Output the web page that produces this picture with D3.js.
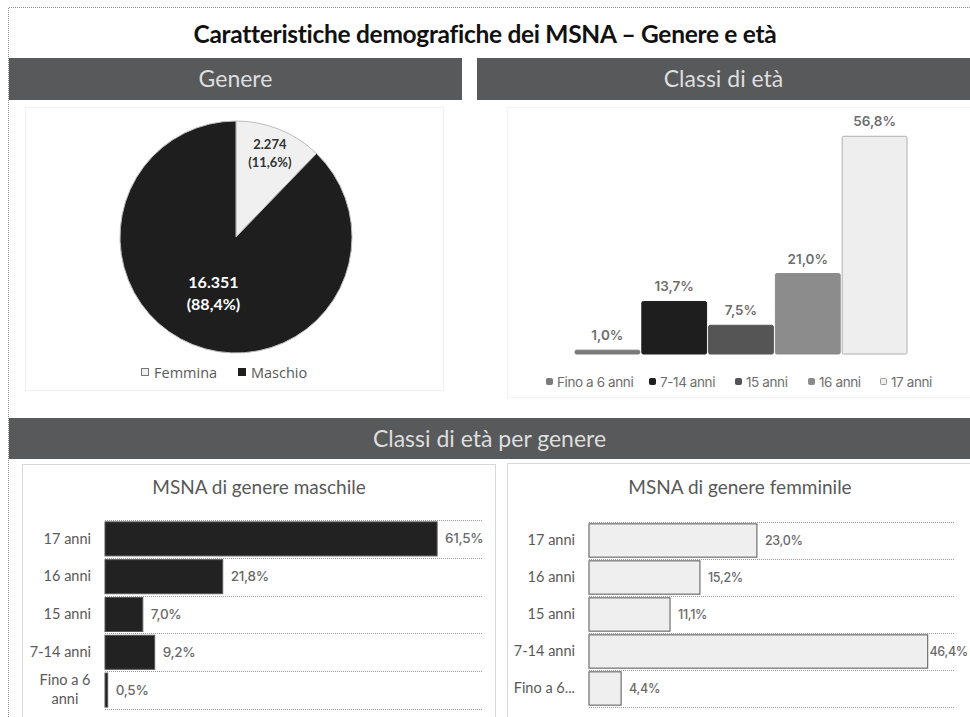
<!DOCTYPE html>
<html>
<head>
<meta charset="utf-8">
<script src="https://cdn.jsdelivr.net/npm/d3@7"></script>
<style>
  body { margin: 0; background: #fff; }
  svg { display: block; font-family: Lato, "Open Sans", sans-serif; }
</style>
</head>
<body>
<div id="chart"></div>
<script>
// data
var genderCats = ["Femmina", "Maschio"];
var genderCounts = [2274, 16351];
var genderLabels = ["(11,6%)", "(88,4%)"];

var ageCats = ["Fino a 6 anni", "7-14 anni", "15 anni", "16 anni", "17 anni"];
var agePct = [1.0, 13.7, 7.5, 21.0, 56.8];

var byGenderCats = ["17 anni", "16 anni", "15 anni", "7-14 anni", "Fino a 6 anni"];
var malePct = [61.5, 21.8, 7.0, 9.2, 0.5];
var femalePct = [23.0, 15.2, 11.1, 46.4, 4.4];

var W = 970, H = 717;
var fmt = function(v) { return v.toFixed(1).replace(".", ",") + "%"; };
var fmtInt = function(v) { return d3.format(",")(v).replace(/,/g, "."); };

var svg = d3.select("#chart").append("svg")
    .attr("width", W)
    .attr("height", H);

// outer dotted frame
svg.append("path")
    .attr("d", "M8.5," + H + "V7.5H" + W)
    .attr("fill", "none")
    .attr("stroke", "#8a8a8a")
    .attr("stroke-dasharray", "1,1");

svg.append("text")
    .attr("x", 485).attr("y", 43)
    .attr("text-anchor", "middle")
    .attr("font-size", 24.5)
    .attr("font-weight", "bold")
    .attr("letter-spacing", -0.3)
    .attr("fill", "#111")
    .text("Caratteristiche demografiche dei MSNA \u2013 Genere e età");

// section header bars
function header(x0, x1, y0, y1, label, size) {
  svg.append("rect")
      .attr("x", x0).attr("y", y0)
      .attr("width", x1 - x0).attr("height", y1 - y0)
      .attr("fill", "#58595b");
  svg.append("text")
      .attr("x", (x0 + x1) / 2).attr("y", (y0 + y1) / 2 + size * 0.36)
      .attr("text-anchor", "middle")
      .attr("font-size", size)
      .attr("fill", "#dedede")
      .text(label);
}
header(9, 462, 58, 100, "Genere", 23);
header(477, W, 58, 100, "Classi di età", 23);
header(9, W, 418, 459, "Classi di età per genere", 23);

// faint panel boxes
svg.append("rect").attr("x", 25.5).attr("y", 107.5).attr("width", 418).attr("height", 283)
    .attr("fill", "none").attr("stroke", "#f0f0f0");
svg.append("rect").attr("x", 507.5).attr("y", 107.5).attr("width", 470).attr("height", 290)
    .attr("fill", "none").attr("stroke", "#f3f3f3");
svg.append("rect").attr("x", 22.5).attr("y", 464.5).attr("width", 473).attr("height", 260)
    .attr("fill", "none").attr("stroke", "#d8d8d8");
svg.append("rect").attr("x", 507.5).attr("y", 463.5).attr("width", 470).attr("height", 260)
    .attr("fill", "none").attr("stroke", "#d8d8d8");

// ---- pie: genere
var cx = 236, cy = 237, R = 116;
var pie = d3.pie().sort(null).value(function(d) { return d; });
var arcs = pie(genderCounts);
var arc = d3.arc().innerRadius(0).outerRadius(R);
var pieFill = ["#f0f0f0", "#1e1e1e"];
var gPie = svg.append("g").attr("transform", "translate(" + cx + "," + cy + ")");

gPie.selectAll("path")
    .data(arcs)
    .enter().append("path")
    .attr("d", arc)
    .attr("fill", function(d, i) { return pieFill[i]; })
    .attr("stroke", "#bdbdbd")
    .attr("stroke-width", 1);

var labelK = [0.78, 0.52];
var labelSize = [13, 16];
var labelColor = ["#333", "#fff"];
arcs.forEach(function(d, i) {
  var la = d3.arc().innerRadius(R * labelK[i]).outerRadius(R * labelK[i]);
  var c = la.centroid(d);
  var t = gPie.append("text")
      .attr("text-anchor", "middle")
      .attr("font-size", labelSize[i])
      .attr("font-weight", "bold")
      .attr("fill", labelColor[i]);
  t.append("tspan").attr("x", c[0]).attr("y", c[1] - labelSize[i] * 0.3).text(fmtInt(genderCounts[i]));
  t.append("tspan").attr("x", c[0]).attr("y", c[1] + labelSize[i] * 1.05).text(genderLabels[i]);
});

// pie legend
var pieLegX = [140, 237];
genderCats.forEach(function(c, i) {
  svg.append("rect")
      .attr("x", pieLegX[i] + 1.5).attr("y", 368.5)
      .attr("width", 7).attr("height", 7)
      .attr("fill", pieFill[i])
      .attr("stroke", i === 0 ? "#777" : "#1e1e1e");
  svg.append("text")
      .attr("x", pieLegX[i] + 14).attr("y", 378)
      .attr("font-family", "'Open Sans', sans-serif")
      .attr("font-size", 14.5)
      .attr("fill", "#595959")
      .text(c);
});

// ---- column chart: classi di età
var ageFill = ["#7a7a7a", "#1e1e1e", "#555555", "#8c8c8c", "#eeeeee"];
var x = d3.scaleBand().domain(ageCats).range([575, 907]).paddingInner(0.03);
var y = d3.scaleLinear().domain([0, 60]).range([354, 124]);

svg.selectAll(".col")
    .data(agePct)
    .enter().append("rect")
    .attr("class", "col")
    .attr("x", function(d, i) { return x(ageCats[i]); })
    .attr("width", x.bandwidth())
    .attr("y", function(d) { return y(d); })
    .attr("height", function(d) { return y(0) - y(d); })
    .attr("rx", 1.5)
    .attr("fill", function(d, i) { return ageFill[i]; })
    .attr("stroke", function(d, i) { return i === 4 ? "#b0b0b0" : ageFill[i]; });

svg.selectAll(".colLab")
    .data(agePct)
    .enter().append("text")
    .attr("class", "colLab")
    .attr("x", function(d, i) { return x(ageCats[i]) + x.bandwidth() / 2; })
    .attr("y", function(d) { return y(d) - 10; })
    .attr("text-anchor", "middle")
    .attr("font-family", "Inter, sans-serif")
    .attr("font-size", 13.5)
    .attr("font-weight", 600)
    .attr("fill", "#6e6e6e")
    .text(fmt);

var ageLegX = [546, 649, 735, 808, 880];
ageCats.forEach(function(c, i) {
  svg.append("rect")
      .attr("x", ageLegX[i] + 0.5).attr("y", 378.5)
      .attr("width", 6).attr("height", 6)
      .attr("rx", 1)
      .attr("fill", ageFill[i])
      .attr("stroke", i === 4 ? "#999" : ageFill[i]);
  svg.append("text")
      .attr("x", ageLegX[i] + 11).attr("y", 386.5)
      .attr("font-family", "Inter, sans-serif")
      .attr("font-size", 13.5)
      .attr("letter-spacing", -0.4)
      .attr("fill", "#6e6e6e")
      .text(c);
});

// ---- horizontal bars by gender
function hbar(opts) {
  var g = svg.append("g");
  g.append("text")
      .attr("x", opts.titleX).attr("y", 494)
      .attr("text-anchor", "middle")
      .attr("font-size", 19)
      .attr("fill", "#595959")
      .text(opts.title);

  var yb = d3.scaleBand().domain(byGenderCats).range([opts.y0, opts.y1]).paddingInner(0.1).paddingOuter(0.05);
  var xb = d3.scaleLinear().domain([0, opts.max]).range([opts.x0, opts.x1]);

  // dotted gridlines at band edges
  var edges = byGenderCats.map(function(c) { return yb(c) - yb.step() * yb.paddingInner() / 2; });
  edges.push(opts.y1);
  edges[0] = opts.y0;
  g.selectAll(".grid")
      .data(edges)
      .enter().append("line")
      .attr("x1", opts.x0).attr("x2", opts.x1)
      .attr("y1", function(d) { return Math.round(d) + 0.5; })
      .attr("y2", function(d) { return Math.round(d) + 0.5; })
      .attr("stroke", "#9a9a9a")
      .attr("stroke-dasharray", "1,1");

  g.selectAll(".bar")
      .data(opts.values)
      .enter().append("rect")
      .attr("x", xb(0))
      .attr("y", function(d, i) { return yb(byGenderCats[i]); })
      .attr("width", function(d) { return xb(d) - xb(0); })
      .attr("height", yb.bandwidth())
      .attr("fill", opts.fill)
      .attr("stroke", opts.stroke);

  g.selectAll(".val")
      .data(opts.values)
      .enter().append("text")
      .attr("y", function(d, i) { return yb(byGenderCats[i]) + yb.bandwidth() / 2 + 4.5; })
      .attr("font-family", "Inter, sans-serif")
      .attr("font-size", opts.valSize)
      .attr("font-weight", 500)
      .attr("letter-spacing", -0.3)
      .attr("fill", "#6a6a6a")
      .text(fmt)
      .attr("x", function(d) {
        // keep the label inside the page, as the original does
        var w = this.getComputedTextLength();
        return Math.min(xb(d) + 8, W - 2 - w);
      });

  var ax = g.append("g")
      .attr("transform", "translate(" + (opts.x0 - 14) + ",0)")
      .call(d3.axisLeft(yb).tickSize(0).tickPadding(0));
  ax.select(".domain").remove();
  ax.selectAll("text")
      .attr("font-family", "Lato, sans-serif")
      .attr("font-size", 14.5)
      .attr("fill", "#595959")
      .each(function(d) { opts.tick(d3.select(this), d); });
}

hbar({
  title: "MSNA di genere maschile", titleX: 259,
  values: malePct, max: 70,
  x0: 105, x1: 483, y0: 520, y1: 709,
  fill: "#222222", stroke: "#555", valSize: 13.5,
  tick: function(t, d) {
    if (d === "Fino a 6 anni") {
      t.text(null).attr("text-anchor", "middle");
      t.append("tspan").attr("x", -26).attr("dy", "-0.35em").text("Fino a 6");
      t.append("tspan").attr("x", -26).attr("dy", "1.3em").text("anni");
    }
  }
});

hbar({
  title: "MSNA di genere femminile", titleX: 740,
  values: femalePct, max: 50,
  x0: 589, x1: 954, y0: 522, y1: 707,
  fill: "#efefef", stroke: "#555", valSize: 12.5,
  tick: function(t, d) {
    if (d === "Fino a 6 anni") t.text("Fino a 6...");
  }
});
</script>
</body>
</html>
